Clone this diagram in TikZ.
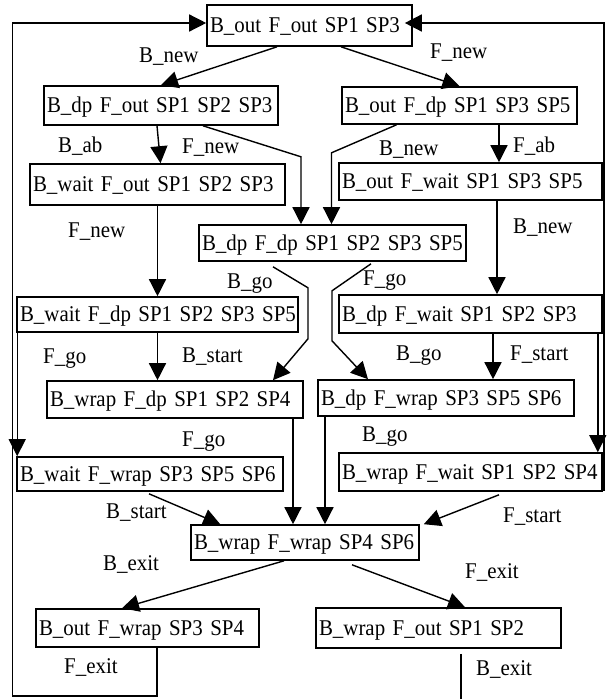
\documentclass[tikz,border=0pt]{standalone}
\usepackage{fontspec}
\setmainfont{Liberation Serif}[FakeStretch=0.93]
\usetikzlibrary{arrows.meta}
\begin{document}
\begin{tikzpicture}[x=1pt,y=-1pt,
  every node/.style={font=\fontsize{22.5}{25}\selectfont},
  state/.style={draw, line width=1.6pt, inner xsep=3pt, inner ysep=0pt, align=left,
                text height=19.2pt, text depth=4.3pt},
  lbl/.style={anchor=base west, inner sep=0pt},
  edge/.style={line width=1.4pt, -{Triangle[length=17pt,width=17pt]}},
  wire/.style={line width=1.4pt}]
\useasboundingbox (0,0) rectangle (607,699);
\fill[white] (0,0) rectangle (607,699);

% states (text kept on one line, flush left)
\node[state, text width=199pt, minimum height=41pt] (s1) at (309.5,25.5) {\mbox{B\_out F\_out SP1 SP3}};
\node[state, text width=228pt, minimum height=39pt] (s2) at (161,105.5) {\mbox{B\_dp F\_out SP1 SP2 SP3}};
\node[state, text width=229pt, minimum height=37pt] (s3) at (459.5,105.5) {\mbox{B\_out F\_dp SP1 SP3 SP5}};
\node[state, text width=249pt, minimum height=41pt] (s4) at (157.5,184.5) {\mbox{B\_wait F\_out SP1 SP2 SP3}};
\node[state, text width=257pt, minimum height=37pt] (s5) at (470.5,181.5) {\mbox{B\_out F\_wait SP1 SP3 SP5}};
\node[state, text width=261pt, minimum height=36pt] (s6) at (332.5,243) {\mbox{B\_dp F\_dp SP1 SP2 SP3 SP5}};
\node[state, text width=275pt, minimum height=35pt] (s7) at (157.5,314.5) {\mbox{B\_wait F\_dp SP1 SP2 SP3 SP5}};
\node[state, text width=257pt, minimum height=38pt] (s8) at (470.5,314) {\mbox{B\_dp F\_wait SP1 SP2 SP3}};
\node[state, text width=250pt, minimum height=37pt] (s9) at (175,399.5) {\mbox{B\_wrap F\_dp SP1 SP2 SP4}};
\node[state, text width=250pt, minimum height=36pt] (s10) at (446,398) {\mbox{B\_dp F\_wrap SP3 SP5 SP6}};
\node[state, text width=260pt, minimum height=34pt] (s11) at (150,474) {\mbox{B\_wait F\_wrap SP3 SP5 SP6}};
\node[state, text width=257pt, minimum height=38pt] (s12) at (470.5,472) {\mbox{B\_wrap F\_wait SP1 SP2 SP4}};
\node[state, text width=222pt, minimum height=35pt] (s13) at (305,542.5) {\mbox{B\_wrap F\_wrap SP4 SP6}};
\node[state, text width=217pt, minimum height=38pt] (s14) at (147.5,628) {\mbox{B\_out F\_wrap SP3 SP4}};
\node[state, text width=239pt, minimum height=40pt] (s15) at (438.5,628) {\mbox{B\_wrap F\_out SP1 SP2}};

% transitions
\draw[edge] ([xshift=-32.5]s1.south) -- (s2.north);
\draw[edge] ([xshift=31.5]s1.south) -- (s3.north);
\draw[edge] ([xshift=-4]s2.south) -- ([xshift=3]s4.north);
\draw[edge] ([xshift=42]s2.south) -- ++(98,31) -- ([xshift=-31.5]s6.north);
\draw[edge] ([xshift=-63]s3.south) -- ++(-65,28) -- ([xshift=-1]s6.north);
\draw[edge] ([xshift=39.5]s3.south) -- ([xshift=28.5]s5.north);
\draw[edge] (s4.south) -- (s7.north);
\draw[edge] ([xshift=26.5]s5.south) -- ([xshift=26.5]s8.north);
\draw[edge] ([xshift=-59.5,yshift=-5]s6.south) -- ++(35,21) -- ++(0,51) -- ([xshift=98]s9.north);
\draw[edge] ([xshift=38.5,yshift=-2]s6.south) -- ++(-39,27) -- ++(0,50) -- ([xshift=-78]s10.north);
\draw[edge] (s7.south) -- ([xshift=-17.5]s9.north);
\draw[edge] ([xshift=1]s7.south west) -- ([xshift=1]s11.north west);
\draw[edge] ([xshift=22.5]s8.south) -- ([xshift=47]s10.north);
\draw[edge] ([xshift=-5]s8.south east) -- ([xshift=-5]s12.north east);
\draw[edge] ([xshift=118]s9.south) -- ([xshift=-12]s13.north);
\draw[edge] ([xshift=-121]s10.south) -- ([xshift=20]s13.north);
\draw[edge] ([xshift=-1,yshift=-2]s11.south) -- ([xshift=30]s13.north west);
\draw[edge] ([xshift=28.5,yshift=-3]s12.south) -- ([xshift=4]s13.north east);
\draw[edge] ([xshift=-21]s13.south) -- ([xshift=-25.5]s14.north);
\draw[edge] ([xshift=47,yshift=-4]s13.south) -- ([xshift=26.5]s15.north);

% return loops
\draw[edge] ([xshift=9.5]s14.south) -- ++(0,48) -- ++(-144.5,0) |- ([yshift=2.5]s1.west);
\draw[wire] ([xshift=22.5,yshift=-5]s15.south) -- ++(0,60);
\coordinate (rloop) at (604,491);
\draw[edge] (rloop) |- ([xshift=-8,yshift=2.5]s1.east);

% labels
\node[lbl] (l1) at (139,62) {B\_new};
\node[lbl] (l2) at (430,58) {F\_new};
\node[lbl] (l3) at (58,152) {B\_ab};
\node[lbl] (l4) at (182,153) {F\_new};
\node[lbl] (l5) at (379,155) {B\_new};
\node[lbl] (l6) at (513,152) {F\_ab};
\node[lbl] (l7) at (68,237) {F\_new};
\node[lbl] (l8) at (513,233) {B\_new};
\node[lbl] (l9) at (227,288) {B\_go};
\node[lbl] (l10) at (363,285) {F\_go};
\node[lbl] (l11) at (43,363) {F\_go};
\node[lbl] (l12) at (182,362) {B\_start};
\node[lbl] (l13) at (396,360) {B\_go};
\node[lbl] (l14) at (510,360) {F\_start};
\node[lbl] (l15) at (182,446) {F\_go};
\node[lbl] (l16) at (362,441) {B\_go};
\node[lbl] (l17) at (106,518) {B\_start};
\node[lbl] (l18) at (503,522) {F\_start};
\node[lbl] (l19) at (103,570) {B\_exit};
\node[lbl] (l20) at (465,578) {F\_exit};
\node[lbl] (l21) at (64,673) {F\_exit};
\node[lbl] (l22) at (476,675) {B\_exit};
\end{tikzpicture}
\end{document}
